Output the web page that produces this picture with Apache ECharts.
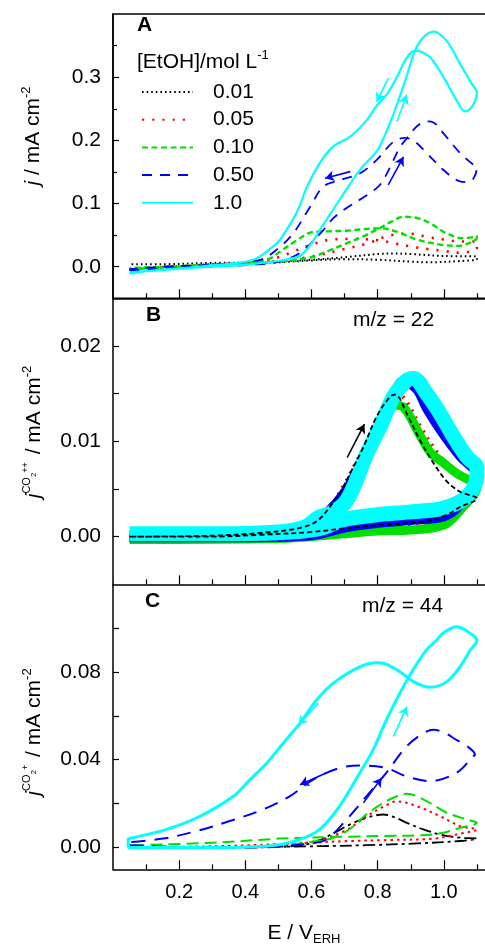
<!DOCTYPE html>
<html><head><meta charset="utf-8">
<script src="https://cdn.jsdelivr.net/npm/echarts@6/dist/echarts.min.js"></script>
<style>html,body{margin:0;padding:0;background:#fff}#c{width:485px;height:950px}</style>
</head><body><div id="c"></div>
<script>
// ---- tick / label values ----
const xMajor = [0.2, 0.4, 0.6, 0.8, 1.0];
const xMinor = [0.1, 0.3, 0.5, 0.7, 0.9, 1.1];
const aMajor = [0, 0.1, 0.2, 0.3];
const aMinor = [0.05, 0.15, 0.25, 0.35];
const bTicks = [0, 0.005, 0.01, 0.015, 0.02];
const bLabels = [0, 0.01, 0.02];
const cTicks = [0, 0.02, 0.04, 0.06, 0.08, 0.1];
const cLabels = [0, 0.04, 0.08];
const concentrations = ['0.01', '0.05', '0.10', '0.50', '1.0'];

// ---- Panel A: j / mA cm-2 vs E (forward then backward sweep) ----
const A_001 = [[0.05,-0.004],[0.15,-0.001],[0.3,0.004],[0.4,0.005],[0.5,0.008],[0.6,0.011],[0.7,0.015],[0.8,0.02],[0.85,0.021],[0.9,0.02],[1.0,0.017],[1.1,0.016],
  [1.1,0.012],[1.05,0.009],[0.95,0.007],[0.9,0.008],[0.8,0.011],[0.7,0.012],[0.6,0.01],[0.5,0.007],[0.3,0.006],[0.15,0.004],[0.05,0.004]];
const A_005 = [[0.05,-0.004],[0.2,0.0],[0.4,0.005],[0.5,0.009],[0.6,0.016],[0.7,0.028],[0.77,0.037],[0.84,0.05],[0.9,0.052],[0.95,0.047],[1.0,0.043],[1.05,0.04],[1.1,0.04],
  [1.1,0.03],[1.05,0.022],[1.0,0.025],[0.95,0.028],[0.9,0.032],[0.85,0.037],[0.8,0.042],[0.72,0.044],[0.66,0.043],[0.6,0.035],[0.55,0.025],[0.5,0.015],[0.45,0.009],[0.3,0.003],[0.05,-0.003]];
const A_010 = [[0.05,-0.004],[0.2,0.0],[0.4,0.004],[0.5,0.008],[0.6,0.015],[0.655,0.026],[0.706,0.037],[0.756,0.048],[0.806,0.061],[0.84,0.071],[0.877,0.079],[0.92,0.077],[0.958,0.069],[1.008,0.053],[1.058,0.045],[1.1,0.048],
  [1.1,0.046],[1.08,0.038],[1.04,0.033],[0.99,0.035],[0.918,0.043],[0.86,0.055],[0.807,0.061],[0.706,0.057],[0.65,0.056],[0.605,0.055],[0.55,0.04],[0.5,0.022],[0.474,0.013],[0.4,0.006],[0.2,0.001],[0.05,-0.002]];
const A_050 = [[0.05,-0.006],[0.2,-0.002],[0.3,0.0],[0.45,0.004],[0.5,0.008],[0.565,0.022],[0.636,0.058],[0.666,0.077],[0.706,0.093],[0.767,0.113],[0.8,0.126],[0.817,0.137],[0.848,0.169],[0.868,0.19],[0.888,0.203],[0.918,0.222],[0.948,0.23],[0.97,0.228],[0.999,0.211],[1.049,0.18],[1.09,0.161],[1.1,0.158],
  [1.09,0.14],[1.07,0.134],[1.049,0.135],[0.999,0.153],[0.948,0.18],[0.908,0.2],[0.883,0.204],[0.848,0.198],[0.797,0.169],[0.747,0.148],[0.686,0.137],[0.636,0.127],[0.596,0.095],[0.545,0.053],[0.495,0.027],[0.445,0.011],[0.3,0.003],[0.15,0.0],[0.05,-0.004]];
const A_100 = [[0.05,-0.011],[0.1,-0.007],[0.2,-0.003],[0.3,0.0],[0.4,0.003],[0.45,0.006],[0.5,0.009],[0.53,0.012],[0.565,0.017],[0.6,0.037],[0.625,0.058],[0.685,0.106],[0.746,0.153],[0.796,0.182],[0.815,0.2],[0.848,0.242],[0.883,0.294],[0.913,0.342],[0.938,0.363],[0.969,0.372],[1.009,0.357],[1.049,0.321],[1.085,0.289],[1.1,0.276],
  [1.095,0.263],[1.08,0.25],[1.064,0.246],[1.039,0.263],[0.999,0.3],[0.959,0.331],[0.928,0.341],[0.913,0.342],[0.888,0.331],[0.858,0.3],[0.828,0.273],[0.797,0.255],[0.767,0.232],[0.717,0.206],[0.665,0.19],[0.625,0.164],[0.585,0.125],[0.565,0.097],[0.544,0.075],[0.505,0.043],[0.484,0.032],[0.424,0.011],[0.3,0.002],[0.2,-0.003],[0.1,-0.007],[0.05,-0.009]];

// ---- Panel B: j CO2++ (m/z = 22) ----
const B_001 = [[0.05,0.0],[0.3,0.0001],[0.45,0.0004],[0.55,0.0008],[0.6,0.0013],[0.626,0.0019],[0.655,0.0031],[0.686,0.0046],[0.722,0.007],[0.757,0.0094],[0.797,0.0126],[0.838,0.0147],[0.853,0.0149],[0.888,0.0129],[0.928,0.0101],[0.969,0.0077],[1.009,0.0058],[1.049,0.0047],[1.1,0.004],
  [1.049,0.0031],[1.009,0.0023],[0.948,0.0016],[0.888,0.0014],[0.807,0.0012],[0.707,0.0009],[0.606,0.0005],[0.45,0.0002],[0.3,0.0],[0.05,0.0]];
const B_005 = [[0.05,0.0],[0.5,0.0004],[0.6,0.0012],[0.65,0.0028],[0.7,0.0055],[0.75,0.0088],[0.8,0.012],[0.85,0.0152],[0.88,0.0145],[0.93,0.0115],[0.98,0.0088],[1.03,0.0068],[1.1,0.0048],
  [1.05,0.003],[1.0,0.002],[0.9,0.0012],[0.8,0.001],[0.7,0.0006],[0.5,0.0],[0.05,-0.0003]];
const B_010 = [[0.05,-0.0002],[0.5,0.0001],[0.6,0.0008],[0.65,0.002],[0.7,0.0045],[0.75,0.0078],[0.8,0.011],[0.85,0.0138],[0.88,0.0135],[0.93,0.0105],[0.96,0.0088],[1.0,0.0077],[1.04,0.0066],[1.1,0.0052],
  [1.05,0.0028],[1.0,0.0012],[0.9,0.0007],[0.8,0.0006],[0.7,0.0003],[0.5,-0.0002],[0.05,-0.0003]];
const B_050 = [[0.05,0.0001],[0.5,0.0003],[0.6,0.0012],[0.65,0.0025],[0.7,0.0045],[0.75,0.0075],[0.8,0.011],[0.85,0.0148],[0.88,0.0163],[0.92,0.0155],[0.95,0.0135],[1.0,0.0108],[1.05,0.0085],[1.1,0.0065],
  [1.05,0.0035],[1.0,0.0022],[0.9,0.0018],[0.8,0.0015],[0.7,0.001],[0.6,0.0002],[0.4,0.0],[0.05,0.0]];
const B_100 = [[0.05,0.0003],[0.3,0.0003],[0.5,0.0005],[0.58,0.001],[0.62,0.002],[0.66,0.0025],[0.7,0.0035],[0.727,0.0052],[0.767,0.0087],[0.807,0.0115],[0.848,0.0147],[0.888,0.0164],[0.908,0.0166],[0.948,0.015],[0.989,0.0129],[1.029,0.0105],[1.069,0.0084],[1.1,0.0072],
  [1.1,0.0065],[1.07,0.0042],[1.0,0.003],[0.9,0.0026],[0.8,0.0023],[0.7,0.0018],[0.62,0.0008],[0.5,0.0004],[0.3,0.0003],[0.05,0.0003]];

// ---- Panel C: j CO2+ (m/z = 44) ----
const C_001 = [[0.05,0.0],[0.4,0.0],[0.5,0.0002],[0.6,0.0018],[0.666,0.0064],[0.717,0.0105],[0.767,0.0135],[0.817,0.015],[0.85,0.0138],[0.888,0.0112],[0.938,0.0082],[0.989,0.0059],[1.049,0.0044],[1.1,0.004],
  [1.049,0.0029],[0.918,0.0018],[0.767,0.001],[0.5,0.0003],[0.05,0.0]];
const C_005 = [[0.05,0.0],[0.4,0.0001],[0.5,0.0008],[0.6,0.0025],[0.7,0.0075],[0.767,0.0142],[0.817,0.0185],[0.858,0.021],[0.918,0.0188],[0.989,0.0142],[1.049,0.0097],[1.1,0.0082],
  [1.039,0.0059],[0.969,0.004],[0.817,0.0033],[0.717,0.0029],[0.6,0.0022],[0.5,0.0015],[0.3,0.0005],[0.05,0.0]];
const C_010 = [[0.05,0.0],[0.4,0.0002],[0.5,0.0008],[0.6,0.0025],[0.666,0.0044],[0.717,0.0085],[0.767,0.0152],[0.817,0.0203],[0.858,0.0233],[0.888,0.0245],[0.949,0.021],[1.009,0.0158],[1.07,0.0127],[1.1,0.0112],
  [1.049,0.0089],[0.989,0.0064],[0.918,0.0055],[0.817,0.0052],[0.717,0.0049],[0.6,0.0045],[0.504,0.004],[0.302,0.0021],[0.05,0.0009]];
const C_050 = [[0.05,0.001],[0.2,0.0002],[0.4,0.0],[0.5,0.0005],[0.6,0.0018],[0.645,0.0036],[0.706,0.0127],[0.766,0.0233],[0.826,0.034],[0.887,0.046],[0.937,0.052],[0.968,0.0536],[1.0,0.0525],[1.038,0.049],[1.07,0.0462],[1.094,0.0423],
  [1.089,0.0415],[1.038,0.034],[0.958,0.0302],[0.887,0.0324],[0.826,0.0362],[0.756,0.0373],[0.685,0.0362],[0.605,0.0309],[0.534,0.0233],[0.454,0.0173],[0.353,0.012],[0.252,0.0074],[0.151,0.004],[0.05,0.0024]];
const C_100 = [[0.046,0.0],[0.2,0.0],[0.35,0.0],[0.45,0.0005],[0.5,0.0012],[0.565,0.0036],[0.625,0.0082],[0.685,0.0188],[0.746,0.034],[0.786,0.0445],[0.826,0.058],[0.867,0.0703],[0.907,0.081],[0.947,0.09],[0.978,0.0945],[1.0,0.098],[1.039,0.1006],[1.08,0.0976],[1.1,0.0945],
  [1.08,0.09],[1.049,0.0824],[1.009,0.0756],[0.959,0.073],[0.908,0.0756],[0.868,0.08],[0.817,0.084],[0.797,0.0842],[0.747,0.0824],[0.666,0.0749],[0.616,0.0673],[0.565,0.0567],[0.515,0.0476],[0.465,0.0385],[0.414,0.0309],[0.364,0.0233],[0.263,0.0142],[0.162,0.0082],[0.061,0.0044],[0.046,0.0036],[0.046,0.0]];

// ---- sweep-direction arrows [from, to] in data coords ----
const arrowsA = [
  {c:'cyan', from:[0.832,0.298], to:[0.797,0.261]},
  {c:'cyan', from:[0.858,0.2295], to:[0.888,0.272]},
  {c:'blue', from:[0.717,0.1505], to:[0.641,0.140]},
  {c:'blue', from:[0.832,0.1295], to:[0.878,0.174]}
];
const arrowsB = [{c:'black', from:[0.708,0.0083], to:[0.760,0.0118]}];
const arrowsC = [
  {c:'cyan', from:[0.621,0.0658], to:[0.560,0.0559]},
  {c:'cyan', from:[0.848,0.0506], to:[0.888,0.0642]},
  {c:'blue', from:[0.646,0.034], to:[0.565,0.0286]},
  {c:'blue', from:[0.757,0.0203], to:[0.812,0.0317]}
];

const FONT = '"Liberation Sans", Arial, sans-serif';
const COL = {black:'#000000', red:'#ff0000', green:'#00e000', blue:'#0000ff', cyan:'#00ffff'};
const concColor = ['black','red','green','blue','cyan'];

const chart = echarts.init(document.getElementById('c'), null, {renderer:'canvas'});

const grids = [
  {left:113, top:14, width:397, height:284.3, show:true, borderColor:'#000', borderWidth:1.5, backgroundColor:'transparent', outerBoundsMode:'none', containLabel:false},
  {left:113, top:298.3, width:397, height:286, outerBoundsMode:'none', containLabel:false},
  {left:113, top:584.3, width:397, height:285, outerBoundsMode:'none', containLabel:false}
];
const xAxes = [], yAxes = [];
for (let i = 0; i < 3; i++) {
  xAxes.push({gridIndex:i, type:'value', min:0, max:1.2, position:'bottom',
    axisLine:{show:true, onZero:false, lineStyle:{color:'#000', width:1.5}},
    axisTick:{show:true, inside:true, length:9, customValues:xMajor, lineStyle:{color:'#000', width:1.2}},
    axisLabel:{show:i===2, customValues:xMajor, formatter:v=>v.toFixed(1), fontSize:20, color:'#000', fontFamily:FONT, margin:13},
    splitLine:{show:false}});
}
for (let i = 0; i < 3; i++) {
  xAxes.push({gridIndex:i, type:'value', min:0, max:1.2, position:'bottom', offset:0,
    axisLine:{show:false, onZero:false},
    axisTick:{show:true, inside:true, length:5, customValues:xMinor, lineStyle:{color:'#000', width:1.2}},
    axisLabel:{show:false}, splitLine:{show:false}});
}
const yCommon = (gi, min, max, ticks, labels, dec) => ({gridIndex:gi, type:'value', min, max, position:'left',
  axisLine:{show:true, onZero:false, lineStyle:{color:'#000', width:1.5}},
  axisTick:{show:true, inside:true, length:6, customValues:ticks, lineStyle:{color:'#000', width:1.2}},
  axisLabel:{show:true, customValues:labels, formatter:v=>v.toFixed(dec), fontSize:21, color:'#000', fontFamily:FONT, margin:12},
  splitLine:{show:false}});
yAxes.push(yCommon(0, -0.05, 0.4, aMajor, aMajor, 1));
yAxes.push(yCommon(1, -0.005, 0.025, bTicks, bLabels, 2));
yAxes.push(yCommon(2, -0.01, 0.12, cTicks, cLabels, 2));
yAxes.push({gridIndex:0, type:'value', min:-0.05, max:0.4, position:'left', offset:0,
  axisLine:{show:false, onZero:false},
  axisTick:{show:true, inside:true, length:4, customValues:aMinor, lineStyle:{color:'#000', width:1.2}},
  axisLabel:{show:false}, splitLine:{show:false}});

const styleA = [
  {type:[1.6,3], width:2},
  {type:[2.2,8], width:2.6},
  {type:[6,3.5], width:2.4},
  {type:[10,8], width:1.8},
  {type:'solid', width:2.2}
];
const styleB = [
  {type:[5,3], width:1.8},
  {type:[2,6], width:4},
  {type:'solid', width:9},
  {type:'solid', width:11},
  {type:'solid', width:15}
];
const styleC = [
  {type:[12,4,3,4], width:1.8},
  {type:[2.5,4], width:2},
  {type:[12,6], width:2},
  {type:[14,9], width:2},
  {type:'solid', width:3}
];
const dataA = [A_001, A_005, A_010, A_050, A_100];
const dataB = [B_001, B_005, B_010, B_050, B_100];
const dataC = [C_001, C_005, C_010, C_050, C_100];

function arrowMark(list) {
  return {silent:true, symbol:['none','arrow'], symbolSize:[8,9], label:{show:false}, animation:false,
    data:list.map(a => [{coord:a.from, lineStyle:{color:COL[a.c], width:1.6, type:'solid'}}, {coord:a.to}])};
}

const series = [];
const panels = [[dataA, styleA, arrowsA], [dataB, styleB, arrowsB], [dataC, styleC, arrowsC]];
panels.forEach(([data, styles, arrows], p) => {
  const order = p === 1 ? [1,2,3,4,0] : [0,1,2,3,4];
  order.forEach((k, idx) => {
    const s = {
      name: concentrations[k], type:'line', xAxisIndex:p, yAxisIndex:p,
      data: data[k], showSymbol:false, symbol:'none', smooth:0.35, animation:false,
      itemStyle:{color:COL[concColor[k]]},
      lineStyle:{color:COL[concColor[k]], width:styles[k].width, type:styles[k].type, cap:'butt', join:'round'},
      z: 2 + idx
    };
    series.push(s);
  });
  series.push({type:'line', xAxisIndex:p, yAxisIndex:p, data:[], symbol:'none', z:10, markLine:arrowMark(arrows)});
});

const rich = {
  i:{fontStyle:'italic', fontSize:21, fontFamily:FONT, lineHeight:26},
  n:{fontSize:21, fontFamily:FONT, lineHeight:26},
  sup:{fontSize:13, fontFamily:FONT, verticalAlign:'top', lineHeight:14},
  co:{fontSize:11, fontFamily:FONT, verticalAlign:'top', lineHeight:12},
  two:{fontSize:8, fontFamily:FONT, verticalAlign:'top', lineHeight:8, padding:[9,0,0,0]},
  pp:{fontSize:9, fontFamily:FONT, verticalAlign:'top', lineHeight:9, padding:[0,2,0,0]},
  sub:{fontSize:13, fontFamily:FONT, verticalAlign:'bottom', lineHeight:14}
};
const txt = (x, y, text, extra) => ({type:'text', x, y, silent:true,
  style:Object.assign({text, fill:'#000', font:'21px ' + FONT, align:'left', verticalAlign:'middle', rich}, extra || {})});

const graphic = [
  txt(137, 25, 'A', {font:'bold 21px ' + FONT}),
  txt(146, 315, 'B', {font:'bold 21px ' + FONT}),
  txt(145, 601, 'C', {font:'bold 21px ' + FONT}),
  txt(353, 320, 'm/z = 22'),
  txt(362, 606, 'm/z = 44'),
  txt(137, 62, '{n|[EtOH]/mol L}{sup|-1}'),
  txt(304, 933, '{n|E / V}{sub|ERH}', {align:'center'}),
  Object.assign(txt(33, 136, '{i|j}{n| / mA cm}{sup|-2}', {align:'center'}), {rotation:Math.PI/2}),
  Object.assign(txt(34, 432, '{i|j}{co|CO}{two|2}{pp|++}{n| / mA cm}{sup|-2}', {align:'center'}), {rotation:Math.PI/2}),
  Object.assign(txt(34, 732, '{i|j}{co|CO}{two|2}{pp|+}{n| / mA cm}{sup|-2}', {align:'center'}), {rotation:Math.PI/2})
];

chart.setOption({
  animation:false,
  backgroundColor:'#fff',
  grid:grids, xAxis:xAxes, yAxis:yAxes, series,
  legend:{data:concentrations, orient:'vertical', left:136, top:76, itemWidth:51, itemHeight:14, itemGap:5.7,
    selectedMode:false, itemStyle:{opacity:0},
    textStyle:{fontSize:21, color:'#000', fontFamily:FONT, padding:[0,0,0,15], lineHeight:22}},
  graphic
});
</script></body></html>
